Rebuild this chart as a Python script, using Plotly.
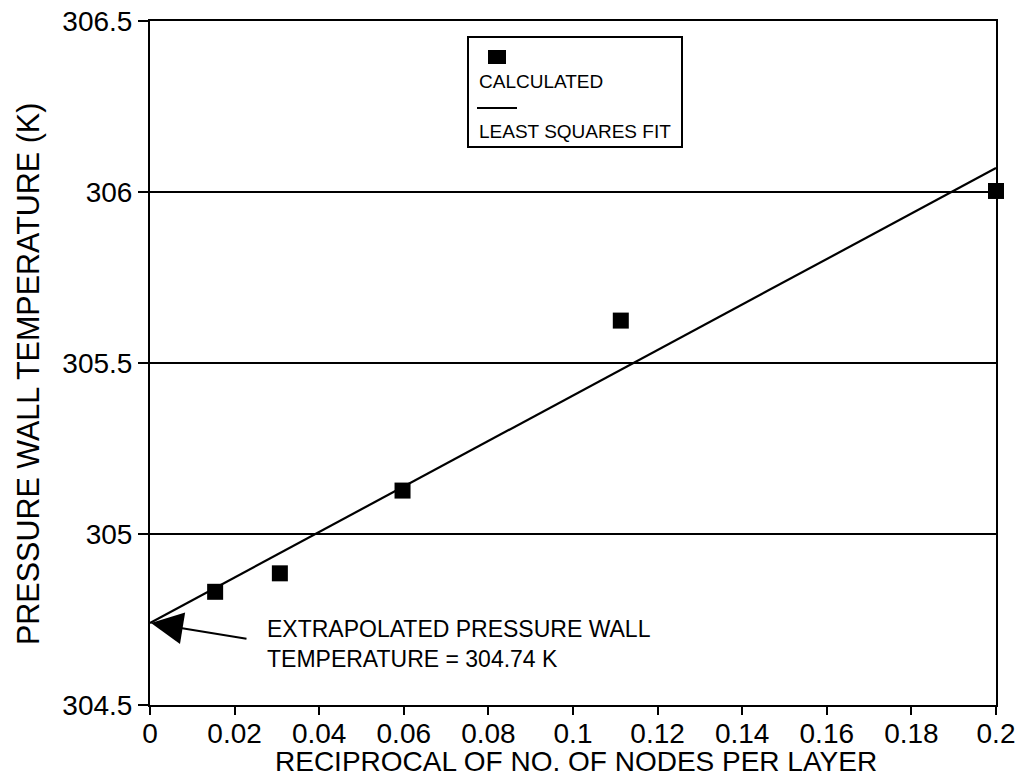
import plotly.graph_objects as go

# Data
calc_x = [0.0154, 0.0307, 0.0597, 0.1113, 0.2]
calc_y = [304.831, 304.885, 305.127, 305.624, 306.003]
fit_x = [0.0, 0.2]
fit_y = [304.74, 306.07]

x_ticks = [0, 0.02, 0.04, 0.06, 0.08, 0.1, 0.12, 0.14, 0.16, 0.18, 0.2]
x_tick_labels = ["0", "0.02", "0.04", "0.06", "0.08", "0.1", "0.12", "0.14", "0.16", "0.18", "0.2"]
y_ticks = [304.5, 305, 305.5, 306, 306.5]
y_tick_labels = ["304.5", "305", "305.5", "306", "306.5"]

x_title = "RECIPROCAL OF NO. OF NODES PER LAYER"
y_title = "PRESSURE WALL TEMPERATURE (K)"

FONT = "Liberation Sans, Arial, Helvetica, sans-serif"

fig = go.Figure()
fig.add_trace(go.Scatter(x=fit_x, y=fit_y, mode="lines",
                         line=dict(color="black", width=2.2), showlegend=False,
                         hoverinfo="skip"))
fig.add_trace(go.Scatter(x=calc_x, y=calc_y, mode="markers",
                         marker=dict(symbol="square", size=16, color="black"),
                         showlegend=False, cliponaxis=False))

W, H = 1022, 781
L, R, T, B = 150, 26, 21, 76
pw, ph = W - L - R, H - T - B


def px(xp):
    return (xp - L) / pw


def py(yp):
    return (H - B - yp) / ph


shapes = [
    # legend box
    dict(type="rect", xref="paper", yref="paper",
         x0=px(468), x1=px(682), y0=py(147), y1=py(37),
         line=dict(color="black", width=2), fillcolor="white"),
    # legend marker
    dict(type="rect", xref="paper", yref="paper",
         x0=px(488), x1=px(506), y0=py(64), y1=py(50),
         line=dict(color="black", width=0), fillcolor="black"),
    # legend line sample
    dict(type="line", xref="paper", yref="paper",
         x0=px(477), x1=px(517), y0=py(108), y1=py(108),
         line=dict(color="black", width=2)),
]

annotations = [
    dict(xref="paper", yref="paper", x=px(477), y=py(81), xanchor="left",
         yanchor="middle", text="CALCULATED", showarrow=False,
         font=dict(family=FONT, size=19, color="black")),
    dict(xref="paper", yref="paper", x=px(477), y=py(131), xanchor="left",
         yanchor="middle", text="LEAST SQUARES FIT", showarrow=False,
         font=dict(family=FONT, size=19, color="black")),
    dict(xref="paper", yref="paper", x=px(265), y=py(644), xanchor="left",
         yanchor="middle", align="left",
         text="EXTRAPOLATED PRESSURE WALL<br>TEMPERATURE = 304.74 K",
         showarrow=False, font=dict(family=FONT, size=23, color="black")),
    dict(x=fit_x[0], y=fit_y[0], xref="x", yref="y", text="",
         showarrow=True, ax=98, ay=16, axref="pixel", ayref="pixel",
         arrowhead=2, arrowsize=3.2, arrowwidth=2, arrowcolor="black",
         standoff=1),
    # axis titles
    dict(xref="paper", yref="paper", x=px(576), y=py(761), xanchor="center",
         yanchor="middle", text=x_title, showarrow=False, borderpad=0,
         font=dict(family=FONT, size=28, color="black")),
    dict(xref="paper", yref="paper", x=px(28), y=py(374), xanchor="center",
         yanchor="middle", text=y_title, showarrow=False, textangle=-90,
         font=dict(family=FONT, size=30.5, color="black")),
]

fig.update_layout(
    width=W, height=H,
    margin=dict(l=L, r=R, t=T, b=B),
    paper_bgcolor="white", plot_bgcolor="white",
    font=dict(family=FONT, size=28, color="black"),
    shapes=shapes, annotations=annotations,
    xaxis=dict(range=[0, 0.2], tickvals=x_ticks, ticktext=x_tick_labels,
               automargin=False,
               showline=True, linecolor="black", linewidth=2, mirror=True,
               ticks="outside", ticklen=8, tickwidth=2, tickcolor="black",
               ticklabelstandoff=-6,
               showgrid=False, zeroline=False,
               tickfont=dict(size=28)),
    yaxis=dict(range=[304.5, 306.5], tickvals=y_ticks, ticktext=y_tick_labels,
               automargin=False,
               showline=True, linecolor="black", linewidth=2, mirror=True,
               ticks="outside", ticklen=10, tickwidth=2, tickcolor="black",
               showgrid=True, gridcolor="black", gridwidth=2, zeroline=False,
               tickfont=dict(size=28)),
)

fig.write_html("out.html")
